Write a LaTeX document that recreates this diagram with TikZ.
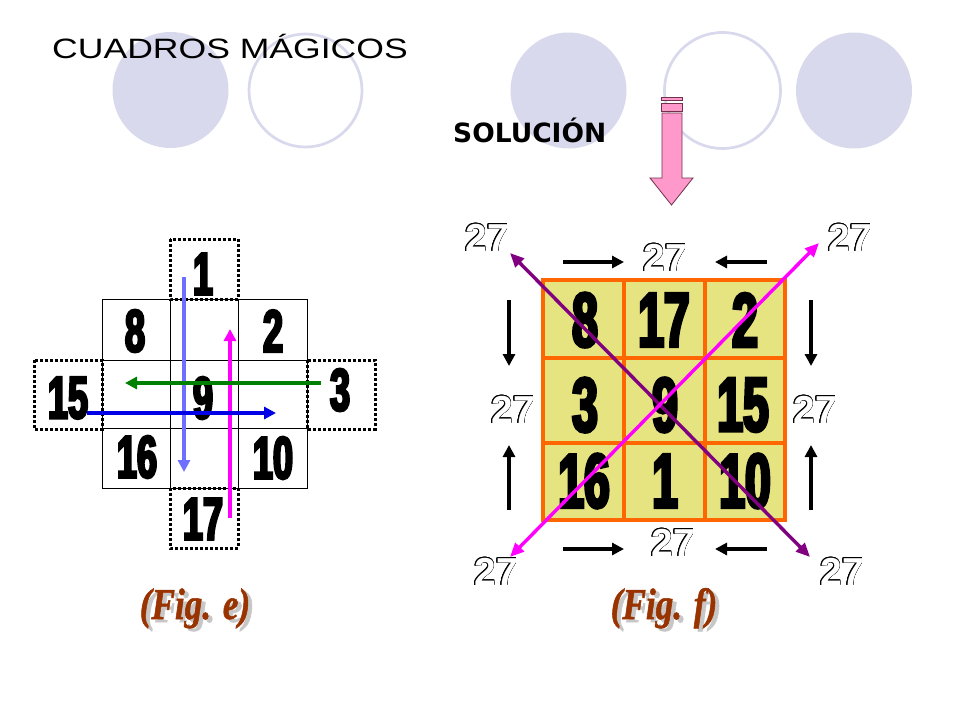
\documentclass[tikz,border=0pt]{standalone}
\usepackage{fontspec}
\usepackage{contour}
\usetikzlibrary{arrows.meta}
\setmainfont{Liberation Sans}
\newfontfamily\titlefont[FakeStretch=1.27]{Liberation Sans}
\newfontfamily\solfont{DejaVu Sans}
\newfontfamily\numfont[FakeStretch=0.6,FakeBold=4]{Liberation Sans Bold}
\newfontfamily\tsfont{Liberation Sans Bold}
\newfontfamily\figfont[FakeStretch=0.8,FakeBold=1.2]{Liberation Serif Bold Italic}
\definecolor{lav}{RGB}{217,217,237}
\definecolor{pinkfill}{RGB}{255,153,204}
\definecolor{pinkline}{RGB}{110,50,75}
\definecolor{cellfill}{RGB}{230,228,128}
\definecolor{gridorange}{RGB}{255,102,0}
\definecolor{lblue}{RGB}{110,110,255}
\definecolor{dgreen}{RGB}{0,128,0}
\definecolor{rust}{RGB}{153,51,0}
\definecolor{purp}{RGB}{128,0,128}
\definecolor{mgnt}{RGB}{255,0,255}
\definecolor{pblue}{RGB}{0,0,230}
\contourlength{0.6pt}
\tikzset{
  numL/.style={inner sep=0, font=\numfont\fontsize{60}{60}\selectfont},
  numR/.style={inner sep=0, font=\numfont\fontsize{77}{77}\selectfont},
  tseven/.style={inner sep=0, font=\tsfont\fontsize{39}{39}\selectfont},
  dotbox/.style={line width=3pt, dash pattern=on 3pt off 2pt},
  arrL/.style={line width=3.6pt, -{Triangle[length=12pt,width=12pt]}},
  arrR/.style={line width=3.6pt, black, -{Triangle[length=12pt,width=12pt]}},
  diag/.style={line width=3.4pt, {Triangle[length=14pt,width=12pt]}-{Triangle[length=14pt,width=12pt]}},
  figlab/.style={inner sep=0, anchor=base, font=\figfont\fontsize{44}{44}\selectfont},
  pinkpart/.style={draw=pinkline, fill=pinkfill, line width=0.8pt}
}
\newcommand{\outl}[1]{\contour{black}{\textcolor{white}{#1}}}
\begin{document}
\begin{tikzpicture}[x=1pt,y=-1pt]
\fill[white] (0,0) rectangle (960,720);
\useasboundingbox (0,0) rectangle (960,720);
% background circles
\fill[lav] (170.5,90) circle (58pt);
\draw[lav, line width=2.7pt] (305.5,90.5) circle (56.5pt);
\fill[lav] (568.5,90.5) circle (58pt);
\draw[lav, line width=2.7pt] (722.5,90.5) circle (58pt);
\fill[lav] (854,90.5) circle (58pt);
% titles
\node[anchor=base west, inner sep=0, font=\titlefont\fontsize{28}{28}\selectfont] (title) at (52,58) {CUADROS MÁGICOS};
\node[anchor=base west, inner sep=0, font=\solfont\bfseries\fontsize{26.5}{26.5}\selectfont] (sol) at (453,142) {SOLUCIÓN};
% pink block arrow
\draw[pinkpart] (661,97) rectangle (682,100);
\draw[pinkpart] (661,103) rectangle (682,111);
\draw[pinkpart] (662,113) -- (682,113) -- (682,178) -- (693,178) -- (671.5,205) -- (650,178) -- (662,178) -- cycle;
% ---------- left figure ----------
\draw[line width=1pt] (102,299) rectangle (307,488);
\draw[line width=1pt] (170,299) -- (170,488) (238,299) -- (238,488)
                      (102,360) -- (307,360) (102,428) -- (307,428);
\draw[dotbox] (170,239) rectangle (238,299);
\draw[dotbox] (170,488) rectangle (238,548);
\draw[dotbox] (34,360) rectangle (102,429);
\draw[dotbox] (307,360) rectangle (375,429);
\node[numL] (l1) at (203,274) {1};
\node[numL] (l8) at (135,331) {8};
\node[numL] (l2) at (273,331) {2};
\node[numL] (l15) at (68,398) {15};
\node[numL] (l9) at (203,398) {9};
\node[numL] (l3) at (340,390) {3};
\node[numL] (l16) at (137,457) {16};
\node[numL] (l10) at (273,458) {10};
\node[numL] (l17) at (203,519) {17};
\coordinate (lbS) at (184,277); \coordinate (lbE) at (184,472);
\coordinate (mgS) at (230,518); \coordinate (mgE) at (230,329);
\coordinate (grS) at (321,383); \coordinate (grE) at (125,383);
\coordinate (blS) at (87,413);  \coordinate (blE) at (276,413);
\draw[arrL, lblue] (lbS) -- (lbE);
\draw[arrL, mgnt] (mgS) -- (mgE);
\draw[arrL, dgreen] (grS) -- (grE);
\draw[arrL, pblue] (blS) -- (blE);
% ---------- right figure ----------
\fill[cellfill] (543,280) rectangle (785,520);
\draw[gridorange, line width=4pt] (543,280) rectangle (785,520);
\draw[gridorange, line width=4pt] (624,280) -- (624,520) (705,280) -- (705,520)
                                  (543,358) -- (785,358) (543,443) -- (785,443);
\node[numR] (r8) at (585,320) {8};
\node[numR] (r17) at (664,320) {17};
\node[numR] (r2) at (745,320) {2};
\node[numR] (r3) at (585,405) {3};
\node[numR] (r9) at (665,405) {9};
\node[numR] (r15) at (743,405) {15};
\node[numR] (r16) at (584,481) {16};
\node[numR] (r1) at (665,481) {1};
\node[numR] (r10) at (745,481) {10};
% black side arrows
\coordinate (t1s) at (563,262); \coordinate (t1e) at (624,262);
\coordinate (t2s) at (767,262); \coordinate (t2e) at (715,262);
\coordinate (b1s) at (563,549); \coordinate (b1e) at (624,549);
\coordinate (b2s) at (767,549); \coordinate (b2e) at (715,549);
\coordinate (v1s) at (509,300); \coordinate (v1e) at (509,366);
\coordinate (v2s) at (509,510); \coordinate (v2e) at (509,445);
\coordinate (v3s) at (811,300); \coordinate (v3e) at (811,366);
\coordinate (v4s) at (811,510); \coordinate (v4e) at (811,445);
\foreach \a in {t1,t2,b1,b2,v1,v2,v3,v4} {\draw[arrR] (\a s) -- (\a e);}
% diagonals
\coordinate (pA) at (510,253); \coordinate (pB) at (810,557);
\coordinate (mA) at (510,557); \coordinate (mB) at (819,243);
\draw[diag, purp] (pA) -- (pB);
\draw[diag, mgnt] (mA) -- (mB);
% 27 labels
\node[tseven] (s1) at (487,238) {\outl{27}};
\node[tseven] (s2) at (665,258) {\outl{27}};
\node[tseven] (s3) at (850,238) {\outl{27}};
\node[tseven] (s4) at (513,410) {\outl{27}};
\node[tseven] (s5) at (815,410) {\outl{27}};
\node[tseven] (s6) at (673,543) {\outl{27}};
\node[tseven] (s7) at (496,572) {\outl{27}};
\node[tseven] (s8) at (842,572) {\outl{27}};
% figure labels
\node[figlab, text=black!22] (feS) at (199,622) {(Fig. e)};
\node[figlab, text=rust] (fe) at (195,619) {(Fig. e)};
\node[figlab, text=black!22] (ffS) at (668,622) {(Fig. f)};
\node[figlab, text=rust] (ff) at (664,619) {(Fig. f)};
\end{tikzpicture}
\end{document}
